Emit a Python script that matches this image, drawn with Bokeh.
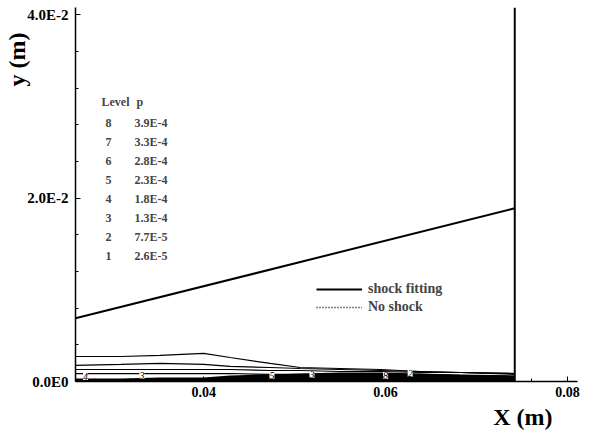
from bokeh.plotting import figure
from bokeh.models import (Range1d, Label, LabelSet, ColumnDataSource, Legend,
                          LegendItem, FixedTicker, Title)
from bokeh.embed import file_html
from bokeh.resources import INLINE

# ---- data (metres) ----
x_range = (0.0259, 0.0811)
y_range = (0.0, 0.0408)

# shock position (fitted shock)
shock_x = [0.0259, 0.0742]
shock_y = [0.00689, 0.0189]

# outflow boundary
outflow_x = [0.0742, 0.0742]
outflow_y = [0.0, 0.0408]

# pressure contour lines near the wall
contour_x = [0.0259, 0.0309, 0.0352, 0.0400, 0.0429, 0.0473,
             0.0506, 0.0550, 0.0594, 0.0638, 0.0682, 0.0742]
contour_a = [0.00273, 0.00273, 0.00284, 0.00306, 0.00262, 0.00197,
             0.00153, 0.00142, 0.00131, 0.00109, 0.00098, 0.00077]
contour_b = [0.00175, 0.00186, 0.00197, 0.00186, 0.00164, 0.00153,
             0.00142, 0.00131, 0.00120, 0.00109, 0.00098, 0.00087]
contour_c = [0.00131, 0.00131, 0.00131, 0.00131, 0.00131, 0.00120,
             0.00120, 0.00109, 0.00109, 0.00098, 0.00098, 0.00087]
contour_d = [0.00087, 0.00087, 0.00087, 0.00087, 0.00087, 0.00077,
             0.00077, 0.00077, 0.00077, 0.00077, 0.00066, 0.00055]
# densely packed inner contours, drawn as a solid band
band_top = [0.00033, 0.00033, 0.00044, 0.00044, 0.00066, 0.00077,
            0.00087, 0.00098, 0.00098, 0.00087, 0.00077, 0.00066]

# contour level labels along the wall
clabel_x = [0.0270, 0.0332, 0.0475, 0.0519, 0.0600, 0.0627]
clabel_y = [0.00055, 0.00066, 0.00066, 0.00077, 0.00066, 0.00087]
clabel_text = ["4", "3", "5", "3", "8", "2"]

# level table
levels = ["8", "7", "6", "5", "4", "3", "2", "1"]
level_p = ["3.9E-4", "3.3E-4", "2.8E-4", "2.3E-4", "1.8E-4", "1.3E-4", "7.7E-5", "2.6E-5"]

y_ticks = [0.0, 0.02, 0.04]
y_tick_labels = ["0.0E0", "2.0E-2", "4.0E-2"]
x_ticks = [0.04, 0.06, 0.08]
x_tick_labels = ["0.04", "0.06", "0.08"]

FONT = "Liberation Serif"

p = figure(width=600, height=434, output_backend="svg", toolbar_location=None,
           x_range=Range1d(*x_range), y_range=Range1d(*y_range),
           min_border_left=75, min_border_right=23, min_border_top=7,
           min_border_bottom=53)
p.outline_line_color = None
p.xgrid.visible = False
p.ygrid.visible = False
p.background_fill_color = "white"
p.border_fill_color = "white"

# axes
p.yaxis.ticker = FixedTicker(ticks=y_ticks,
                             minor_ticks=[i * 0.004 for i in range(11)])
p.yaxis.major_label_overrides = dict(zip(y_ticks, y_tick_labels))
p.xaxis.ticker = FixedTicker(ticks=x_ticks,
                             minor_ticks=[0.028 + i * 0.004 for i in range(14)])
p.xaxis.major_label_overrides = dict(zip(x_ticks, x_tick_labels))
for ax in (p.xaxis, p.yaxis):
    ax.axis_line_color = "black"
    ax.axis_line_width = 1.5
    ax.major_tick_in = 5
    ax.major_tick_out = 0
    ax.minor_tick_in = 3
    ax.minor_tick_out = 0
    ax.major_tick_line_color = "black"
    ax.minor_tick_line_color = "black"
    ax.major_label_text_font = FONT
    ax.major_label_text_font_style = "bold"
    ax.major_label_text_color = "black"
p.yaxis.major_label_text_font_size = "15px"
p.xaxis.major_label_text_font_size = "14px"
p.yaxis.major_label_standoff = 7
p.xaxis.major_label_standoff = 5

# axis titles, pushed toward the far ends of the axes
p.add_layout(Title(text="X (m)", align="right", offset=25, standoff=5,
                   text_font=FONT, text_font_style="bold",
                   text_font_size="24px", text_color="black"), "below")
p.add_layout(Title(text="y (m)", align="right", offset=25, standoff=-10,
                   text_font=FONT, text_font_style="bold",
                   text_font_size="24px", text_color="black"), "left")

# contours
p.varea(x=contour_x, y1=[0.0] * len(contour_x), y2=band_top, fill_color="black")
p.multi_line(xs=[contour_x] * 4, ys=[contour_a, contour_b, contour_c, contour_d],
             line_color="black", line_width=1.2)

clabels = LabelSet(source=ColumnDataSource(dict(x=clabel_x, y=clabel_y, t=clabel_text)),
                   x="x", y="y", text="t", text_font=FONT, text_font_size="10px",
                   text_font_style="italic", text_align="center",
                   text_baseline="middle", background_fill_color="white",
                   text_color="black")
p.add_layout(clabels)

# shock and outflow boundary
shock = p.line(shock_x, shock_y, line_color="black", line_width=2)
p.line(outflow_x, outflow_y, line_color="black", line_width=2)
no_shock = p.line([float("nan")], [float("nan")], line_color="black",
                  line_width=1.3, line_dash="1 2")

legend = Legend(items=[LegendItem(label="shock fitting", renderers=[shock]),
                       LegendItem(label="No shock", renderers=[no_shock])],
                location=(241, 65), orientation="vertical",
                background_fill_alpha=0, border_line_color=None,
                padding=0, margin=0, spacing=0, glyph_width=46,
                glyph_height=18, label_height=18, label_standoff=6,
                label_text_font=FONT, label_text_font_style="bold",
                label_text_font_size="14px")
p.add_layout(legend)

# level table (screen offsets from the frame's lower-left corner)
table_font = dict(text_font=FONT, text_font_style="bold", text_font_size="12px",
                  text_baseline="middle", x_units="screen", y_units="screen")
p.add_layout(Label(x=26, y=381 - 101, text="Level", **table_font))
p.add_layout(Label(x=61, y=381 - 101, text="p", **table_font))
for i, (lv, pv) in enumerate(zip(levels, level_p)):
    yy = 381 - (122 + i * 19.1)
    p.add_layout(Label(x=33, y=yy, text=lv, text_align="center", **table_font))
    p.add_layout(Label(x=59, y=yy, text=pv, **table_font))

open("out.html", "w").write(file_html(p, INLINE))
